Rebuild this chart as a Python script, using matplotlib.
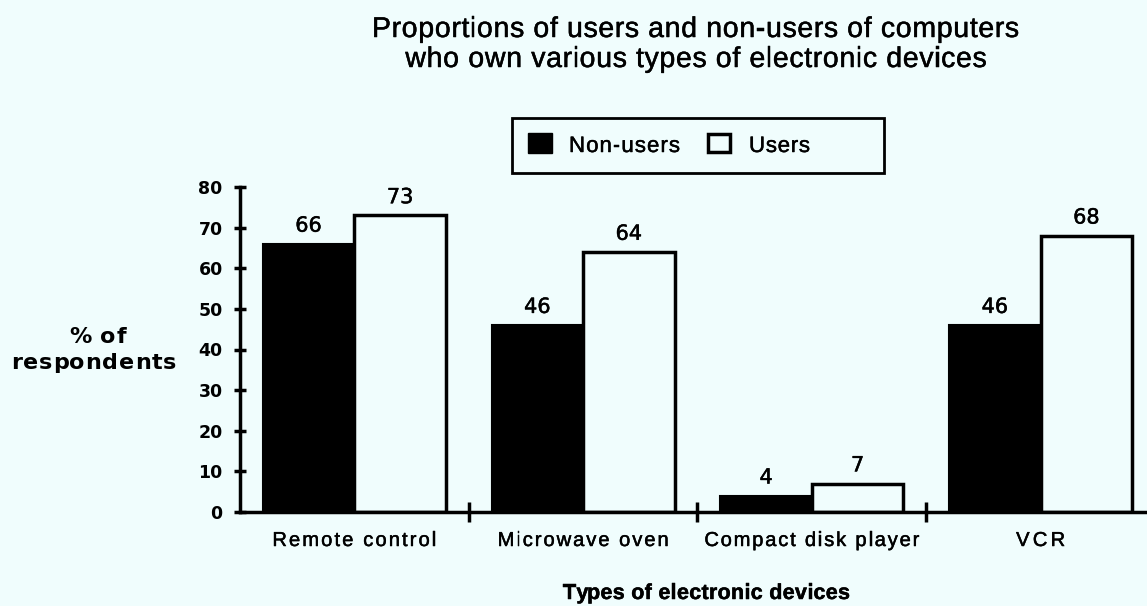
import matplotlib
matplotlib.use("Agg")
import matplotlib.pyplot as plt
import matplotlib.patheffects as pe
from matplotlib.patches import Rectangle
from matplotlib.transforms import IdentityTransform
import numpy as np

# Survey data: share of respondents owning each device
categories = ["Remote control", "Microwave oven", "Compact disk player", "VCR"]
non_users = [66, 46, 4, 46]
users = [73, 64, 7, 68]
series_names = ["Non-users", "Users"]
y_ticks = [0, 10, 20, 30, 40, 50, 60, 70, 80]
title_lines = ["Proportions of users and non-users of computers",
               "who own various types of electronic devices"]
y_label_lines = ["% of", "respondents"]
x_label = "Types of electronic devices"

bg = "#f0fdfd"
W, H = 1147, 606
fig = plt.figure(figsize=(W / 100, H / 100), dpi=100, facecolor=bg)
ID = IdentityTransform()
renderer = fig.canvas.get_renderer()
# a touch of extra stroke weight for the printed look of the type
heavy = [pe.withStroke(linewidth=0.35, foreground="black")]


def px(x0, y0, x1, y1):
    """Figure-fraction rectangle from a pixel box (top-left origin)."""
    return [x0 / W, 1 - y1 / H, (x1 - x0) / W, (y1 - y0) / H]


def measure(s, **kw):
    t = fig.text(0, 0, s, transform=ID, **kw)
    w = t.get_window_extent(renderer).width
    t.remove()
    return w


def tracked_text(s, x, y_base, width, ha="center", effects=heavy, **kw):
    """Set s glyph by glyph, letter-spaced so it spans `width` pixels.
    y_base is the baseline measured from the top of the figure."""
    bar = measure("|", **kw)
    natural = measure(s, **kw)
    n = len(s)
    track = (width - natural) / (n - 1) if n > 1 else 0.0
    left = x - width / 2 if ha == "center" else x
    yb = H - y_base
    for i, ch in enumerate(s):
        if ch == " ":
            continue
        off = measure(s[:i] + "|", **kw) - bar if i else 0.0
        fig.text(left + off + i * track, yb, ch, transform=ID,
                 ha="left", va="baseline", path_effects=effects, **kw)
    return track


ax = fig.add_axes(px(240, 187, 1155, 512))
ax.set_facecolor(bg)

x = np.arange(len(categories)) + 0.5
bw = 0.4
ax.bar(x - bw / 2, non_users, width=bw, color="black", edgecolor="black", linewidth=1.5)
ax.bar(x + bw / 2, users, width=bw, color=bg, edgecolor="black", linewidth=2.5)

for xs, vals in ((x - bw / 2, non_users), (x + bw / 2, users)):
    for xi, v in zip(xs, vals):
        ax.annotate(str(v), (xi, v), xytext=(0, 8.8), textcoords="offset points",
                    ha="center", va="baseline", fontsize=15, family="DejaVu Sans",
                    path_effects=heavy)

ax.set_xlim(0, 4)
ax.set_ylim(0, 80)
for s in ["top", "right"]:
    ax.spines[s].set_visible(False)
for s in ["left", "bottom"]:
    ax.spines[s].set_linewidth(2.5)

ax.set_yticks(y_ticks)
ax.set_yticklabels([str(t) for t in y_ticks], fontsize=12.5, family="DejaVu Sans",
                   fontweight="bold")
ax.tick_params(axis="y", direction="inout", length=9, width=2.5, pad=8)

# ticks mark the category boundaries
ax.set_xticks([1, 2, 3])
ax.set_xticklabels([])
ax.tick_params(axis="x", direction="inout", length=14, width=2.5)

fig.canvas.draw()

# category names, centred under each pair of bars
cat_widths = [164, 171, 215, 49]
for xi, name, wd in zip(x, categories, cat_widths):
    xc = ax.transData.transform((xi, 0))[0]
    tracked_text(name, xc, 546, wd, fontsize=14.5, family="Liberation Sans")

# title
tkw = dict(fontsize=20.5, family="Liberation Sans")
tr = tracked_text(title_lines[0], 695.5, 37, 647, **tkw)
nat2 = measure(title_lines[1], **tkw)
tracked_text(title_lines[1], 696, 67, nat2 + tr * (len(title_lines[1]) - 1), **tkw)

# y-axis label, set horizontally to the left of the axis
ykw = dict(fontsize=16, family="DejaVu Sans", fontweight="bold")
tr = tracked_text(y_label_lines[1], 93.5, 369, 165, effects=[], **ykw)
nat = measure(y_label_lines[0], **ykw)
tracked_text(y_label_lines[0], 97.5, 343, nat + tr * (len(y_label_lines[0]) - 1),
             effects=[], **ykw)

# x-axis label
tracked_text(x_label, 706.5, 599, 287, fontsize=15.5, family="Liberation Sans",
             fontweight="bold")

# legend box with swatches
fig.patches.append(Rectangle((512, H - 173), 372, 55, transform=ID, facecolor="none",
                             edgecolor="black", linewidth=2))
fig.patches.append(Rectangle((528, H - 153), 24, 20, transform=ID, facecolor="black",
                             edgecolor="black", linewidth=1))
fig.patches.append(Rectangle((708, H - 152), 22, 18, transform=ID, facecolor=bg,
                             edgecolor="black", linewidth=2.5))
lkw = dict(fontsize=16, family="Liberation Sans")
tracked_text(series_names[0], 569, 152, 111, ha="left", **lkw)
tracked_text(series_names[1], 749, 152, 61, ha="left", **lkw)

fig.savefig("out.png", dpi=100, facecolor=bg)
